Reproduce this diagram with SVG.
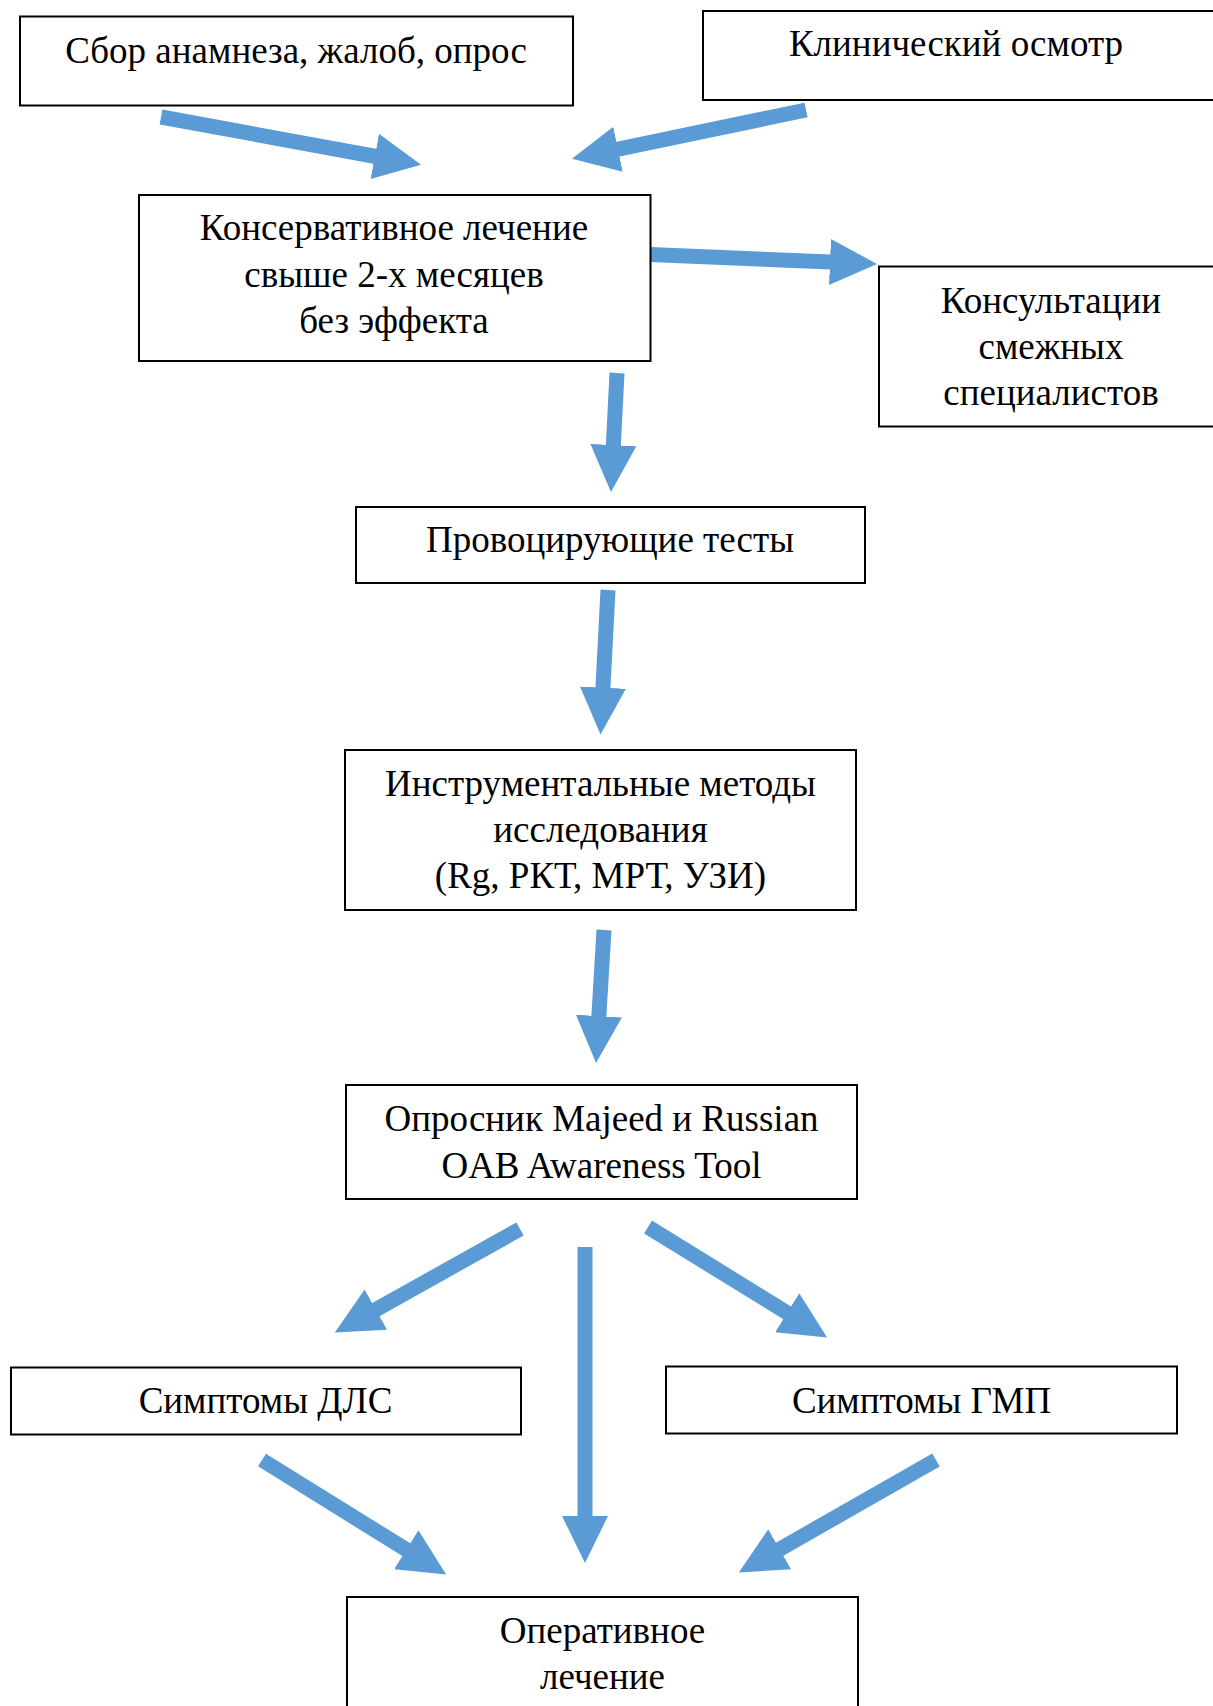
<svg xmlns="http://www.w3.org/2000/svg" width="1213" height="1706" viewBox="0 0 1213 1706">
<style>
.box{fill:#fff;stroke:#000;stroke-width:2}
.t{font-family:"Liberation Serif","Times New Roman",serif;font-size:37px;fill:#000;text-anchor:middle}
.c{stroke:#5B9BD5;stroke-width:15;fill:none;stroke-linecap:butt}
</style>
<defs>
<marker id="ah" markerUnits="userSpaceOnUse" markerWidth="50" markerHeight="50" viewBox="0 -25 50 50" refX="1" refY="0" orient="auto">
<path d="M0,-23 L47,0 L0,23 z" fill="#5B9BD5"/>
</marker>
</defs>
<rect width="1213" height="1706" fill="#fff"/>
<g id="connectors">
<line class="c" x1="161" y1="117" x2="375.8" y2="156.5" marker-end="url(#ah)"/>
<line class="c" x1="806" y1="110" x2="617" y2="149.4" marker-end="url(#ah)"/>
<line class="c" x1="650" y1="254.5" x2="831" y2="262" marker-end="url(#ah)"/>
<line class="c" x1="617" y1="373" x2="613.3" y2="446.1" marker-end="url(#ah)"/>
<line class="c" x1="608" y1="590" x2="602.9" y2="688.6" marker-end="url(#ah)"/>
<line class="c" x1="604" y1="930" x2="598.8" y2="1017.1" marker-end="url(#ah)"/>
<line class="c" x1="520" y1="1229" x2="375" y2="1310.1" marker-end="url(#ah)"/>
<line class="c" x1="585" y1="1247" x2="585" y2="1517" marker-end="url(#ah)"/>
<line class="c" x1="648" y1="1227" x2="788" y2="1313.3" marker-end="url(#ah)"/>
<line class="c" x1="262" y1="1460" x2="407.1" y2="1550.2" marker-end="url(#ah)"/>
<line class="c" x1="936" y1="1460" x2="778.8" y2="1549.7" marker-end="url(#ah)"/>
</g>
<g id="n1"><rect class="box" x="20" y="16.5" width="553" height="89"/><text class="t" x="296" y="63">Сбор анамнеза, жалоб, опрос</text></g>
<g id="n2"><rect class="box" x="703" y="11" width="512" height="89"/><text class="t" x="956" y="56">Клинический осмотр</text></g>
<g id="n3"><rect class="box" x="139" y="195" width="511.5" height="166"/><text class="t" x="394" y="240">Консервативное лечение</text><text class="t" x="394" y="287">свыше 2-х месяцев</text><text class="t" x="394" y="333">без эффекта</text></g>
<g id="n4"><rect class="box" x="879" y="266.5" width="336" height="160"/><text class="t" x="1051" y="313">Консультации</text><text class="t" x="1051" y="359">смежных</text><text class="t" x="1051" y="404.5">специалистов</text></g>
<g id="n5"><rect class="box" x="356" y="507" width="509" height="76"/><text class="t" x="610" y="552">Провоцирующие тесты</text></g>
<g id="n6"><rect class="box" x="345" y="750" width="511" height="160"/><text class="t" x="600.5" y="796">Инструментальные методы</text><text class="t" x="600.5" y="842">исследования</text><text class="t" x="600.5" y="887.5">(Rg, РКТ, МРТ, УЗИ)</text></g>
<g id="n7"><rect class="box" x="346" y="1085" width="511" height="114"/><text class="t" x="601.5" y="1131">Опросник Majeed и Russian</text><text class="t" x="601.5" y="1178">OAB Awareness Tool</text></g>
<g id="n8"><rect class="box" x="11" y="1367.5" width="510" height="67"/><text class="t" x="265.5" y="1413">Симптомы ДЛС</text></g>
<g id="n9"><rect class="box" x="666" y="1366.5" width="511" height="67"/><text class="t" x="921.5" y="1413">Симптомы ГМП</text></g>
<g id="n10"><rect class="box" x="347" y="1597" width="511" height="120"/><text class="t" x="602.5" y="1642.5">Оперативное</text><text class="t" x="602.5" y="1689">лечение</text></g>
</svg>
